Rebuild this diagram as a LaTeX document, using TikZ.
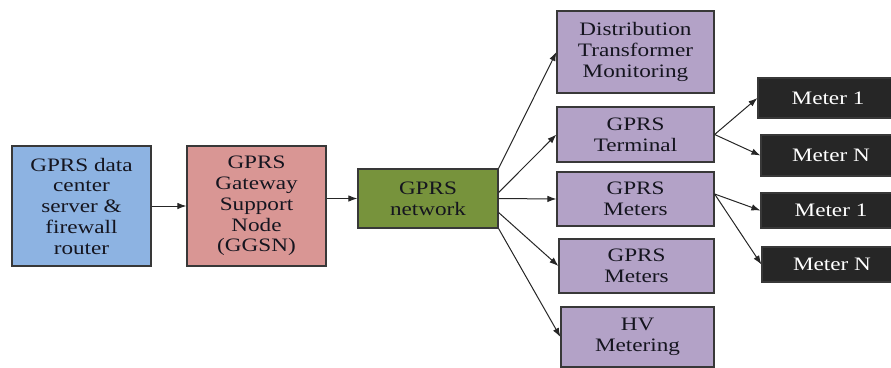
\documentclass[tikz,border=0pt]{standalone}
\usepackage{fontspec}
\setmainfont{Liberation Serif}[FakeStretch=1.22]
\usetikzlibrary{arrows.meta}

\definecolor{dcblue}{HTML}{8DB3E2}
\definecolor{ggsnpink}{HTML}{D99694}
\definecolor{netgreen}{HTML}{77933C}
\definecolor{devpurple}{HTML}{B3A2C7}
\definecolor{meterblack}{HTML}{262626}
\definecolor{boxline}{HTML}{383838}
\definecolor{boxtext}{HTML}{15151F}

\tikzset{
  box/.style={draw=boxline, line width=1.2pt, align=center, inner sep=0pt,
              font=\fontsize{19}{20.75}\selectfont, text=boxtext},
  devbox/.style={box, fill=devpurple, minimum width=157pt},
  meterbox/.style={box, fill=meterblack, text=white, minimum width=140pt},
  arr/.style={-{Latex[length=9pt,width=6.5pt]}, line width=1pt, draw=black!85}
}

\begin{document}
\begin{tikzpicture}[x=1pt, y=-1pt]

    \useasboundingbox (0,0) rectangle (891,367);

    % Left chain
    \node [box, fill=dcblue, minimum width=139pt, minimum height=120pt] (dc) at (81.5,206)
        {GPRS data\\center\\server \&\\firewall\\router};
    \node [box, fill=ggsnpink, minimum width=139pt, minimum height=120pt] (ggsn) at (256.5,206)
        {GPRS\\Gateway\\Support\\Node\\(GGSN)};
    \node [box, fill=netgreen, minimum width=140pt, minimum height=59pt] (net) at (428,198.5)
        {GPRS\\network};

    % Devices on the GPRS network
    \node [devbox, minimum height=82pt] (dtm) at (635.5,52)
        {Distribution\\Transformer\\Monitoring};
    \node [devbox, minimum height=55pt] (term) at (635.5,134.5) {GPRS\\Terminal};
    \node [devbox, minimum height=54pt] (gma) at (635.5,199) {GPRS\\Meters};
    \node [devbox, minimum height=54pt, minimum width=155pt] (gmb) at (636.5,266) {GPRS\\Meters};
    \node [devbox, minimum height=60pt, minimum width=153pt] (hv) at (637.5,337) {HV\\Metering};

    % Meters (cut off at the right edge)
    \node [meterbox, minimum height=40pt] (ma) at (828,98) {Meter 1};
    \node [meterbox, minimum height=41pt] (mb) at (831,155.5) {Meter N};
    \node [meterbox, minimum height=35pt] (mc) at (831,210.5) {Meter 1};
    \node [meterbox, minimum height=35pt] (md) at (832,264.5) {Meter N};

    \draw [arr] (dc) -- (ggsn);
    \draw [arr] (ggsn.east |- net.west) -- (net.west);

    % Fan out from the network
    \draw [arr] (net.north east) -- (dtm.west);
    \draw [arr] ([yshift=6pt]net.east) -- (term.west);
    \draw [arr] (net.east) -- (gma.west);
    \draw [arr] ([yshift=-14pt]net.east) -- (gmb.west);
    \draw [arr] (net.south east) -- (hv.west);

    \foreach \src/\dst in {term/ma, term/mb} {
        \draw [arr] (\src.east) -- (\dst.west);
    }
    \foreach \src/\dst in {gma/mc, gma/md} {
        \draw [arr] ([yshift=5pt]\src.east) -- (\dst.west);
    }

\end{tikzpicture}
\end{document}
